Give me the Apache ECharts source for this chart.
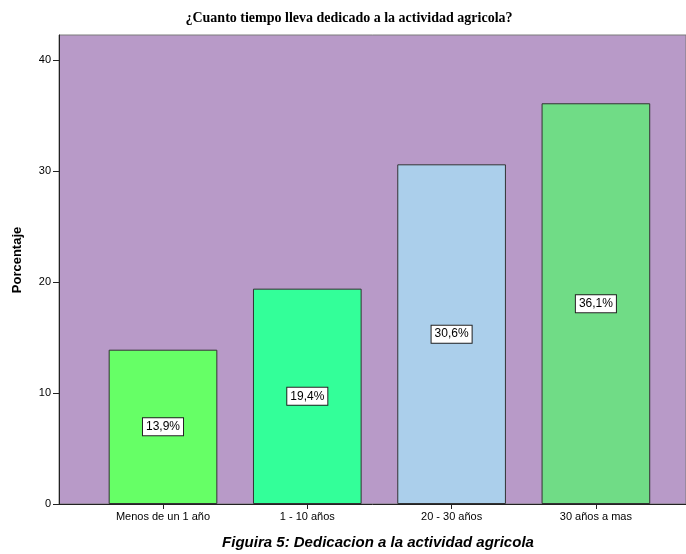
<!DOCTYPE html>
<html>
<head>
<meta charset="utf-8">
<script src="https://cdn.jsdelivr.net/npm/echarts@6/dist/echarts.min.js"></script>
<style>html,body{margin:0;padding:0;background:#fff}#c{width:686px;height:554px}</style>
</head>
<body>
<div id="c"></div>
<script>
const categories = ['Menos de un 1 año', '1 - 10 años', '20 - 30 años', '30 años a mas'];
const values = [13.9, 19.4, 30.6, 36.1];
const barColors = ['#66FF66', '#33FF99', '#ABCFEB', '#70DC86'];
const yTicks = [0, 10, 20, 30, 40];
const titleText = '¿Cuanto tiempo lleva dedicado a la actividad agricola?';
const yName = 'Porcentaje';
const caption = 'Figuira 5: Dedicacion a la actividad agricola';

const chart = echarts.init(document.getElementById('c'), null, {renderer: 'canvas'});
const YMAX = 42.25;
const option = {
  animation: false,
  grid: [
    {left: 59, top: 35, width: 680, height: 469, show: true, backgroundColor: '#B89AC8', borderColor: '#7a7a7a', borderWidth: 1},
    {left: 90.85, top: 35, width: 577.2, height: 469}
  ],
  xAxis: [
    {type: 'value', gridIndex: 0, min: 0, max: 1, axisLine: {show: true, lineStyle: {color: '#222', width: 1}}, axisTick: {show: false}, axisLabel: {show: false}, splitLine: {show: false}},
    {type: 'category', gridIndex: 1, data: categories, axisLine: {show: false},
     axisTick: {show: true, alignWithLabel: true, length: 5, lineStyle: {color: '#222'}},
     axisLabel: {color: '#000', fontFamily: 'Liberation Sans', fontSize: 11, margin: 7}}
  ],
  yAxis: [
    {type: 'value', gridIndex: 0, min: 0, max: YMAX, interval: 10,
     axisLine: {show: true, lineStyle: {color: '#222', width: 1}},
     axisTick: {show: true, length: 6, customValues: yTicks, lineStyle: {color: '#222'}},
     axisLabel: {customValues: yTicks, color: '#000', fontFamily: 'Liberation Sans', fontSize: 11, margin: 8},
     splitLine: {show: false}},
    {type: 'value', gridIndex: 1, min: 0, max: YMAX, show: false}
  ],
  series: [{
    type: 'bar', xAxisIndex: 1, yAxisIndex: 1, barWidth: '75.3%',
    data: values.map((v, i) => ({value: v, itemStyle: {color: barColors[i]}})),
    itemStyle: {borderColor: '#333', borderWidth: 1},
    label: {
      show: true, position: 'inside',
      formatter: p => p.value.toFixed(1).replace('.', ',') + '%',
      backgroundColor: '#fff', borderColor: '#222', borderWidth: 1, padding: [3, 3, 2, 3],
      color: '#000', fontFamily: 'Liberation Sans', fontSize: 12
    }
  }],
  graphic: [
    {type: 'text', x: 349, y: 18,
     style: {text: titleText, textAlign: 'center', textVerticalAlign: 'middle', fontFamily: 'Liberation Serif', fontWeight: 'bold', fontSize: 14, fill: '#000'}},
    {type: 'text', x: 17, y: 260, rotation: Math.PI / 2,
     style: {text: yName, textAlign: 'center', textVerticalAlign: 'middle', fontFamily: 'Liberation Sans', fontWeight: 'bold', fontSize: 13, fill: '#000'}},
    {type: 'text', x: 378, y: 543,
     style: {text: caption, textAlign: 'center', textVerticalAlign: 'middle', fontFamily: 'Liberation Sans', fontWeight: 'bold', fontStyle: 'italic', fontSize: 15, fill: '#000'}}
  ]
};
chart.setOption(option);
</script>
</body>
</html>
